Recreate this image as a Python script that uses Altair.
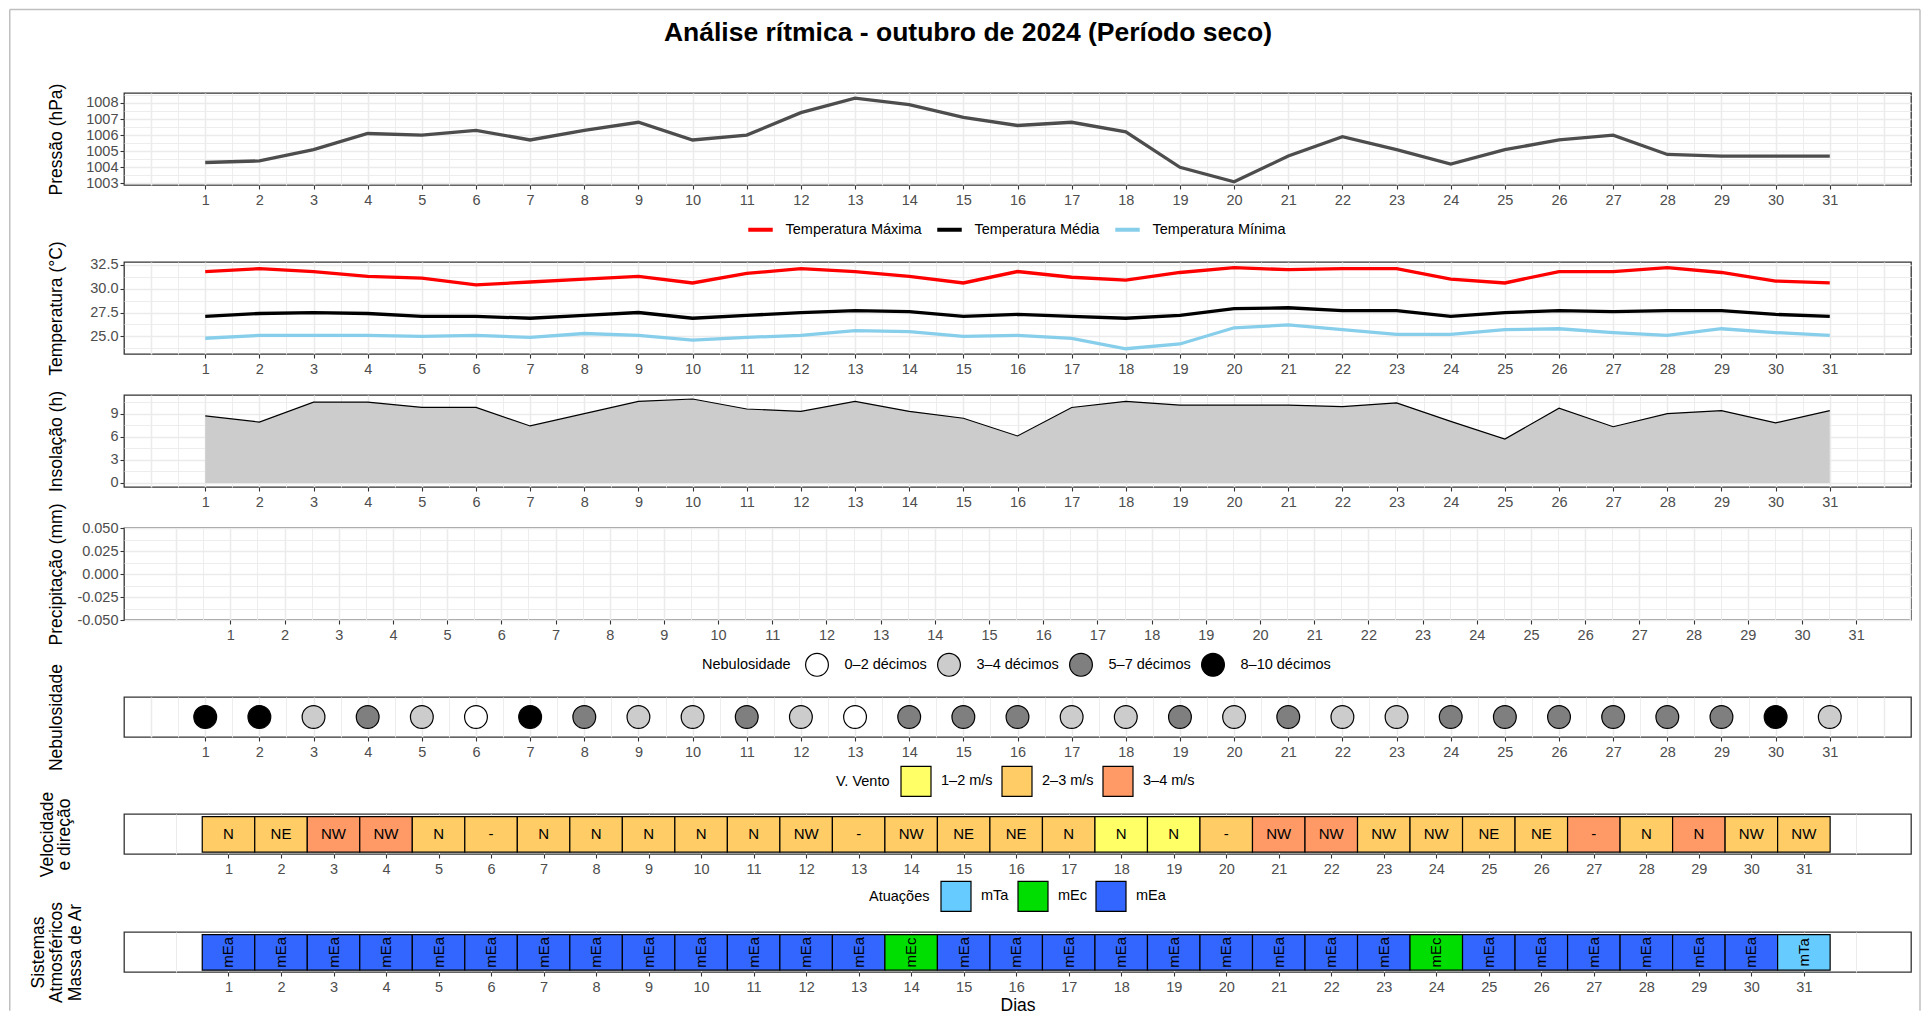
import altair as alt
import pandas as pd

# ---------------- data ----------------
dias = list(range(1, 32))

pressao = [1004.3, 1004.4, 1005.1, 1006.1, 1006.0, 1006.3, 1005.7, 1006.3, 1006.8, 1005.7,
           1006.0, 1007.4, 1008.3, 1007.9, 1007.1, 1006.6, 1006.8, 1006.2, 1004.0, 1003.1,
           1004.7, 1005.9, 1005.1, 1004.2, 1005.1, 1005.7, 1006.0, 1004.8, 1004.7, 1004.7, 1004.7]

temp_max = [31.8, 32.1, 31.8, 31.3, 31.1, 30.4, 30.7, 31.0, 31.3, 30.6,
            31.6, 32.1, 31.8, 31.3, 30.6, 31.8, 31.2, 30.9, 31.7, 32.2,
            32.0, 32.1, 32.1, 31.0, 30.6, 31.8, 31.8, 32.2, 31.7, 30.8, 30.6]
temp_med = [27.1, 27.4, 27.5, 27.4, 27.1, 27.1, 26.9, 27.2, 27.5, 26.9,
            27.2, 27.5, 27.7, 27.6, 27.1, 27.3, 27.1, 26.9, 27.2, 27.9,
            28.0, 27.7, 27.7, 27.1, 27.5, 27.7, 27.6, 27.7, 27.7, 27.3, 27.1]
temp_min = [24.8, 25.1, 25.1, 25.1, 25.0, 25.1, 24.9, 25.3, 25.1, 24.6,
            24.9, 25.1, 25.6, 25.5, 25.0, 25.1, 24.8, 23.7, 24.2, 25.9,
            26.2, 25.7, 25.2, 25.2, 25.7, 25.8, 25.4, 25.1, 25.8, 25.4, 25.1]

insolacao = [8.7, 7.9, 10.5, 10.5, 9.8, 9.8, 7.4, 9.0, 10.6, 10.9,
             9.6, 9.3, 10.6, 9.3, 8.4, 6.1, 9.8, 10.6, 10.1, 10.1,
             10.1, 9.9, 10.4, 8.0, 5.7, 9.7, 7.3, 9.0, 9.4, 7.8, 9.4]

precipitacao = [0.0] * 31

neb_classes = ["0–2 décimos", "3–4 décimos", "5–7 décimos", "8–10 décimos"]
neb_colors = ["#FFFFFF", "#CCCCCC", "#7F7F7F", "#000000"]
nebulosidade = ["8–10 décimos", "8–10 décimos", "3–4 décimos", "5–7 décimos", "3–4 décimos",
                "0–2 décimos", "8–10 décimos", "5–7 décimos", "3–4 décimos", "3–4 décimos",
                "5–7 décimos", "3–4 décimos", "0–2 décimos", "5–7 décimos", "5–7 décimos",
                "5–7 décimos", "3–4 décimos", "3–4 décimos", "5–7 décimos", "3–4 décimos",
                "5–7 décimos", "3–4 décimos", "3–4 décimos", "5–7 décimos", "5–7 décimos",
                "5–7 décimos", "5–7 décimos", "5–7 décimos", "5–7 décimos", "8–10 décimos",
                "3–4 décimos"]

vento_classes = ["1–2 m/s", "2–3 m/s", "3–4 m/s"]
vento_colors = ["#FFFF66", "#FFCC66", "#FF9966"]
vento_vel = ["2–3 m/s", "2–3 m/s", "3–4 m/s", "3–4 m/s", "2–3 m/s", "2–3 m/s", "2–3 m/s",
             "2–3 m/s", "2–3 m/s", "2–3 m/s", "2–3 m/s", "2–3 m/s", "2–3 m/s", "2–3 m/s",
             "2–3 m/s", "2–3 m/s", "2–3 m/s", "1–2 m/s", "1–2 m/s", "2–3 m/s", "3–4 m/s",
             "3–4 m/s", "2–3 m/s", "2–3 m/s", "2–3 m/s", "2–3 m/s", "3–4 m/s", "2–3 m/s",
             "3–4 m/s", "2–3 m/s", "2–3 m/s"]
vento_dir = ["N", "NE", "NW", "NW", "N", "-", "N", "N", "N", "N", "N", "NW", "-", "NW", "NE",
             "NE", "N", "N", "N", "-", "NW", "NW", "NW", "NW", "NE", "NE", "-", "N", "N", "NW", "NW"]

massa_classes = ["mTa", "mEc", "mEa"]
massa_colors = ["#66CCFF", "#00DD00", "#3366FF"]
massa = ["mEa"] * 13 + ["mEc"] + ["mEa"] * 9 + ["mEc"] + ["mEa"] * 6 + ["mTa"]

temp_series = ["Temperatura Máxima", "Temperatura Média", "Temperatura Mínima"]
temp_colors = ["#FF0000", "#000000", "#87CEEB"]

# ---------------- tables ----------------
df = pd.DataFrame({
    "dia": dias, "pressao": pressao, "insol": insolacao, "prec": precipitacao,
    "neb": nebulosidade, "vvel": vento_vel, "vdir": vento_dir, "massa": massa,
})
df_temp = pd.concat([
    pd.DataFrame({"dia": dias, "temp": vals, "serie": name})
    for vals, name in zip([temp_max, temp_med, temp_min], temp_series)
])

# ---------------- style / layout ----------------
FONT = "Liberation Sans"
W = 1787
HB = 92
HS = 40
GAPS = [77, 41, 41, 76.5, 77, 78]
TITLE_X = -68
LAB = "datum.value >= 1 && datum.value <= 31 && abs(datum.value - round(datum.value)) < 1e-6"

grid_half = [i * 0.5 for i in range(0, 65)]
grid_int = list(range(0, 33))

# thin page border, placed relative to the last panel's plot area
PLOT_TOP = 84.7          # frame top -> first plot area
PLOT_LEFT = 115          # frame left -> plot areas
AIR_TOP = PLOT_TOP + 4 * HB + 2 * HS + sum(GAPS)
FRAME_BOTTOM = 1010 - 8 - AIR_TOP   # page y 1010, relative to the last plot top


def x_axis(vals, title=None, minor=True):
    kw = dict(
        values=vals,
        labelExpr=f"({LAB}) ? format(datum.value, 'd') : ''",
        tickOpacity={"condition": {"test": LAB, "value": 1}, "value": 0},
        labelOverlap=False, labelFlush=False, labelBound=False,
        labelPadding=4.5,
    )
    if minor:
        kw["gridWidth"] = {"condition": {"test": "abs(datum.value - round(datum.value)) < 1e-6", "value": 1.5},
                           "value": 0.9}
    if title is not None:
        kw["title"] = title
        kw["titlePadding"] = 2
    return alt.Axis(**kw)


def y_axis(vals, major_test, fmt, title_lines):
    return alt.Axis(
        values=vals,
        labelExpr=f"({major_test}) ? {fmt} : ''",
        tickOpacity={"condition": {"test": major_test, "value": 1}, "value": 0},
        gridWidth={"condition": {"test": major_test, "value": 1.5}, "value": 0.9},
        labelOverlap=False, labelFlush=False, labelBound=False,
        title=title_lines, titleX=TITLE_X, titleAngle=270, titleBaseline="middle",
        titleAlign="center", labelPadding=2,
    )


def strip_y_axis(title_lines, h, tx, lh):
    return alt.Axis(
        values=[i / 8 for i in range(1, 8)], labels=False, ticks=False, gridWidth=0.9,
        title=title_lines, titleX=tx, titleY=h / 2, titleAngle=270, titleBaseline="middle",
        titleAlign="center", titleLineHeight=lh,
    )


def spacer(h):
    return alt.Chart(pd.DataFrame({"s": [0]})).mark_point(opacity=0).encode(
        x=alt.X("s:Q", axis=None), y=alt.Y("s:Q", axis=None)
    ).properties(width=10, height=h, view=alt.ViewBackground(stroke="transparent"))


def box_legend(title, lx, ly):
    return alt.Legend(orient="none", direction="horizontal", title=title,
                      titleOrient="left", legendX=lx, legendY=ly,
                      symbolSize=900, symbolStrokeColor="#000000",
                      symbolStrokeWidth=1.2, symbolType="square",
                      labelOffset=9, columnPadding=6, titlePadding=10)


X_TOP = alt.Scale(domain=[-0.5, 32.5], nice=False, zero=False)
X_PREC = alt.Scale(domain=[-0.87, 31.92], nice=False, zero=False)
X_TILE = alt.Scale(domain=[-0.99, 33.04], nice=False, zero=False)

# 1. pressure
p_press = alt.Chart(df).mark_line(color="#4D4D4D", strokeWidth=3.3).encode(
    x=alt.X("dia:Q", scale=X_TOP, axis=x_axis(grid_half), title=None),
    y=alt.Y("pressao:Q", scale=alt.Scale(domain=[1002.9, 1008.62], nice=False, zero=False),
            axis=y_axis([1003 + 0.5 * i for i in range(0, 12)],
                        "abs(datum.value - round(datum.value)) < 1e-6",
                        "format(datum.value, 'd')", "Pressão (hPa)")),
).properties(
    width=W, height=HB,
    title=alt.TitleParams("Análise rítmica - outubro de 2024 (Período seco)", fontSize=26.5,
                          fontWeight="bold", font=FONT, anchor="middle", frame="group",
                          dx=-49.5, color="#000000", offset=37),
)

# 2. temperature
p_temp = alt.Chart(df_temp).mark_line(strokeWidth=3.3).encode(
    x=alt.X("dia:Q", scale=X_TOP, axis=x_axis(grid_half), title=None),
    y=alt.Y("temp:Q", scale=alt.Scale(domain=[23.15, 32.8], nice=False, zero=False),
            axis=y_axis([23.75 + 1.25 * i for i in range(0, 8)],
                        "abs(datum.value / 2.5 - round(datum.value / 2.5)) < 1e-6",
                        "format(datum.value, '.1f')", "Temperatura (°C)")),
    color=alt.Color("serie:N", scale=alt.Scale(domain=temp_series, range=temp_colors),
                    legend=alt.Legend(orient="none", direction="horizontal", title=None,
                                      legendX=622, legendY=-47, symbolType="stroke",
                                      symbolSize=600, symbolStrokeWidth=4,
                                      labelOffset=10.5, columnPadding=7)),
).properties(width=W, height=HB)

# 3. insolation
base_ins = alt.Chart(df).encode(
    x=alt.X("dia:Q", scale=X_TOP, axis=x_axis(grid_half), title=None),
    y=alt.Y("insol:Q", scale=alt.Scale(domain=[-0.53, 11.42], nice=False, zero=False),
            axis=y_axis([1.5 * i for i in range(0, 8)],
                        "abs(datum.value / 3 - round(datum.value / 3)) < 1e-6",
                        "format(datum.value, 'd')", "Insolação (h)")),
)
p_ins = alt.layer(
    base_ins.mark_area(color="#CCCCCC", opacity=1),
    base_ins.mark_line(color="#000000", strokeWidth=1.2),
).properties(width=W, height=HB)

# 4. precipitation
p_prec = alt.Chart(df).mark_bar(color="#4A90D9").encode(
    x=alt.X("dia:Q", scale=X_PREC, axis=x_axis(grid_half), title=None),
    y=alt.Y("prec:Q", scale=alt.Scale(domain=[-0.05, 0.05], nice=False, zero=False),
            axis=y_axis([-0.05 + 0.0125 * i for i in range(0, 9)],
                        "abs(datum.value * 40 - round(datum.value * 40)) < 1e-6",
                        "(datum.value < -1e-9 ? '-' : '') + format(abs(datum.value), '.3f')",
                        "Precipitação (mm)")),
).properties(width=W, height=HB)

# 5. cloudiness
p_neb = alt.Chart(df).mark_point(filled=True, opacity=1, stroke="#000000", strokeWidth=1.2,
                                 size=520, shape="circle").encode(
    x=alt.X("dia:Q", scale=X_TOP, axis=x_axis(grid_half), title=None),
    y=alt.YDatum(0.5, type="quantitative", scale=alt.Scale(domain=[0, 1], nice=False, zero=False),
                 axis=strip_y_axis("Nebulosidade", HS, TITLE_X, 18)),
    fill=alt.Fill("neb:N", scale=alt.Scale(domain=neb_classes, range=neb_colors),
                  legend=alt.Legend(orient="none", direction="horizontal", title="Nebulosidade",
                                    titleOrient="left", legendX=578, legendY=-45,
                                    symbolSize=520, symbolStrokeColor="#000000",
                                    symbolStrokeWidth=1.2, symbolType="circle",
                                    labelOffset=15, columnPadding=7, titlePadding=13.5)),
).properties(width=W, height=HS)

# 6. wind
base_w = alt.Chart(df).transform_calculate(x0="datum.dia - 0.5", x1="datum.dia + 0.5")
p_wind = alt.layer(
    base_w.mark_rect(stroke="#000000", strokeWidth=1.2).encode(
        x=alt.X("x0:Q", scale=X_TILE, axis=x_axis(grid_int, minor=False), title=None),
        x2="x1:Q",
        y=alt.YDatum(0.045, type="quantitative", scale=alt.Scale(domain=[0, 1], nice=False, zero=False),
                     axis=strip_y_axis(["Velocidade", "e direção"], HS, -77, 17)),
        y2=alt.Y2Datum(0.935),
        fill=alt.Fill("vvel:N", scale=alt.Scale(domain=vento_classes, range=vento_colors),
                      legend=box_legend("V. Vento", 712, -49)),
    ),
    base_w.mark_text(fontSize=15, font=FONT, color="#000000", baseline="middle").encode(
        x=alt.X("dia:Q"),
        y=alt.YDatum(0.49, type="quantitative"),
        text="vdir:N",
    ),
).properties(width=W, height=HS)

# 7. air masses (+ thin page border: left, right and top sides)
border_src = alt.Chart(pd.DataFrame({"f": [0]}))
BORDER = dict(color="#BFBFBF", strokeWidth=1.5)
b_left = border_src.mark_rule(**BORDER).encode(
    x=alt.value(-PLOT_LEFT + 0.75), y=alt.value(-AIR_TOP + 0.75), y2=alt.value(FRAME_BOTTOM))
b_right = border_src.mark_rule(**BORDER).encode(
    x=alt.value(W + 9), y=alt.value(-AIR_TOP + 0.75), y2=alt.value(FRAME_BOTTOM))
b_top = border_src.mark_rule(**BORDER).encode(
    x=alt.value(-PLOT_LEFT + 0.75), x2=alt.value(W + 9), y=alt.value(-AIR_TOP + 0.75))

p_air = alt.layer(
    base_w.mark_rect(stroke="#000000", strokeWidth=1.2).encode(
        x=alt.X("x0:Q", scale=X_TILE, axis=x_axis(grid_int, title="Dias", minor=False)),
        x2="x1:Q",
        y=alt.YDatum(0.045, type="quantitative", scale=alt.Scale(domain=[0, 1], nice=False, zero=False),
                     axis=strip_y_axis(["Sistemas", "Atmosféricos", "Massa de Ar"], HS, -86, 18.5)),
        y2=alt.Y2Datum(0.935),
        fill=alt.Fill("massa:N", scale=alt.Scale(domain=massa_classes, range=massa_colors),
                      legend=box_legend("Atuações", 745, -52)),
    ),
    base_w.mark_text(fontSize=15, font=FONT, color="#000000", angle=270,
                     baseline="middle", align="center").encode(
        x=alt.X("dia:Q"),
        y=alt.YDatum(0.49, type="quantitative"),
        text="massa:N",
    ),
    b_left, b_right, b_top,
).properties(width=W, height=HS)

panels = [p_press, p_temp, p_ins, p_prec, p_neb, p_wind, p_air]
items = []
for i, p in enumerate(panels):
    items.append(p)
    if i < len(GAPS):
        items.append(spacer(GAPS[i]))

chart = alt.vconcat(*items, spacing=0, bounds="flush").resolve_scale(
    x="independent", y="independent", color="independent", fill="independent"
).resolve_legend(color="independent", fill="independent").properties(
    padding={"left": 0, "top": 0, "right": 0, "bottom": 0},
    background="#FFFFFF",
).configure_view(
    stroke="#333333", strokeWidth=1.3
).configure_axis(
    labelFont=FONT, labelFontSize=14.5, labelColor="#4D4D4D",
    tickColor="#333333", tickSize=4, tickWidth=1.1, domain=False,
    gridColor="#EBEBEB", titleFont=FONT, titleFontSize=17.5, titleFontWeight="normal",
    titleColor="#000000", titleLineHeight=18,
).configure_legend(
    labelFont=FONT, labelFontSize=14.5, labelColor="#000000",
    titleFont=FONT, titleFontSize=14.5, titleFontWeight="normal", titleColor="#000000",
    titleBaseline="middle", titleAnchor="middle",
)

chart.save("out.html", embed_options={"renderer": "svg", "actions": False})
